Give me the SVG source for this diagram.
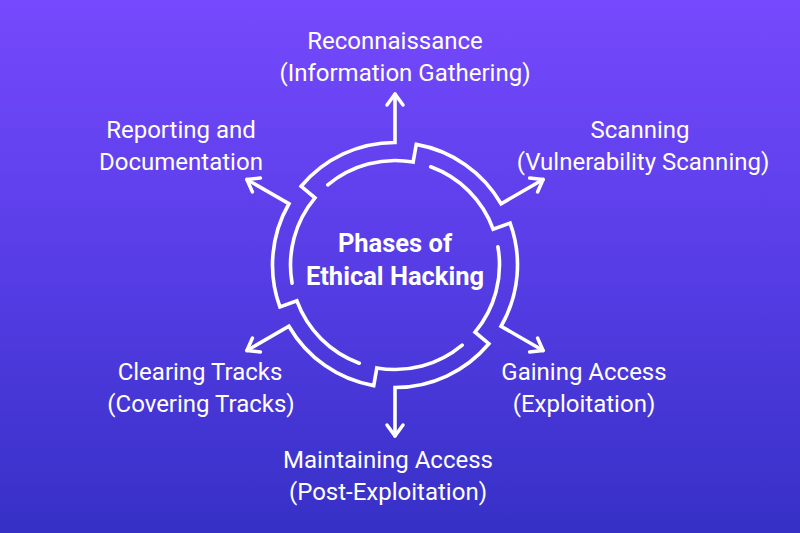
<svg xmlns="http://www.w3.org/2000/svg" width="800" height="533" viewBox="0 0 800 533">
  <defs>
    <linearGradient id="bg" x1="0" y1="0" x2="0" y2="1">
      <stop offset="0" stop-color="#7649fd"/>
      <stop offset="0.5" stop-color="#573de6"/>
      <stop offset="1" stop-color="#3630c6"/>
    </linearGradient>
    <marker id="ah" viewBox="-15 -12 20 24" refX="0" refY="0" markerWidth="20" markerHeight="24" markerUnits="userSpaceOnUse" orient="auto">
      <path d="M-11,-8 L0,0 L-11,8" fill="none" stroke="#ffffff" stroke-width="3.5" stroke-linecap="round" stroke-linejoin="round"/>
    </marker>
    <style>
      .ring { fill: none; stroke: #ffffff; stroke-width: 3.6; stroke-linecap: round; stroke-linejoin: miter; marker-end: url(#ah); }
      .lbl { font-family: Roboto, "Liberation Sans", sans-serif; font-size: 24px; fill: #ffffff; text-anchor: middle; }
      .title { font-family: Roboto, "Liberation Sans", sans-serif; font-size: 25.5px; font-weight: bold; fill: #ffffff; text-anchor: middle; }
    </style>
  </defs>
  <rect x="0" y="0" width="800" height="533" fill="url(#bg)"/>

  <g id="connectors">
    <path id="to-reconnaissance" class="ring" d="M292.09,283.14 A104.5,104.5 0 0 1 314.95,197.83 L301.16,186.26 A122.5,122.5 0 0 1 395,142.5 L395,94"/>
    <path id="to-scanning" class="ring" d="M327.83,184.95 A104.5,104.5 0 0 1 413.14,162.09 L416.27,144.36 A122.5,122.5 0 0 1 501.09,203.75 L543.09,179.5"/>
    <path id="to-gaining" class="ring" d="M430.74,166.80 A104.5,104.5 0 0 1 493.20,229.26 L510.11,223.10 A122.5,122.5 0 0 1 501.09,326.25 L543.09,350.5"/>
    <path id="to-maintaining" class="ring" d="M497.91,246.86 A104.5,104.5 0 0 1 475.05,332.17 L488.84,343.74 A122.5,122.5 0 0 1 395,387.5 L395,436"/>
    <path id="to-clearing" class="ring" d="M462.17,345.05 A104.5,104.5 0 0 1 376.86,367.91 L373.73,385.64 A122.5,122.5 0 0 1 288.91,326.25 L246.91,350.5"/>
    <path id="to-reporting" class="ring" d="M359.26,363.20 A104.5,104.5 0 0 1 296.80,300.74 L279.89,306.90 A122.5,122.5 0 0 1 288.91,203.75 L246.91,179.5"/>
  </g>

  <g id="center">
    <text class="title" x="395" y="252">Phases of</text>
    <text class="title" x="395" y="285">Ethical Hacking</text>
  </g>

  <g id="reconnaissance">
    <text class="lbl" x="395" y="49">Reconnaissance</text>
    <text class="lbl" x="405" y="81">(Information Gathering)</text>
  </g>
  <g id="scanning">
    <text class="lbl" x="640" y="138">Scanning</text>
    <text class="lbl" x="643" y="170">(Vulnerability Scanning)</text>
  </g>
  <g id="gaining-access">
    <text class="lbl" x="584" y="380">Gaining Access</text>
    <text class="lbl" x="584" y="412">(Exploitation)</text>
  </g>
  <g id="maintaining-access">
    <text class="lbl" x="388" y="468">Maintaining Access</text>
    <text class="lbl" x="388" y="500">(Post-Exploitation)</text>
  </g>
  <g id="clearing-tracks">
    <text class="lbl" x="200" y="380">Clearing Tracks</text>
    <text class="lbl" x="201" y="412">(Covering Tracks)</text>
  </g>
  <g id="reporting">
    <text class="lbl" x="181" y="138">Reporting and</text>
    <text class="lbl" x="181" y="170">Documentation</text>
  </g>
</svg>
